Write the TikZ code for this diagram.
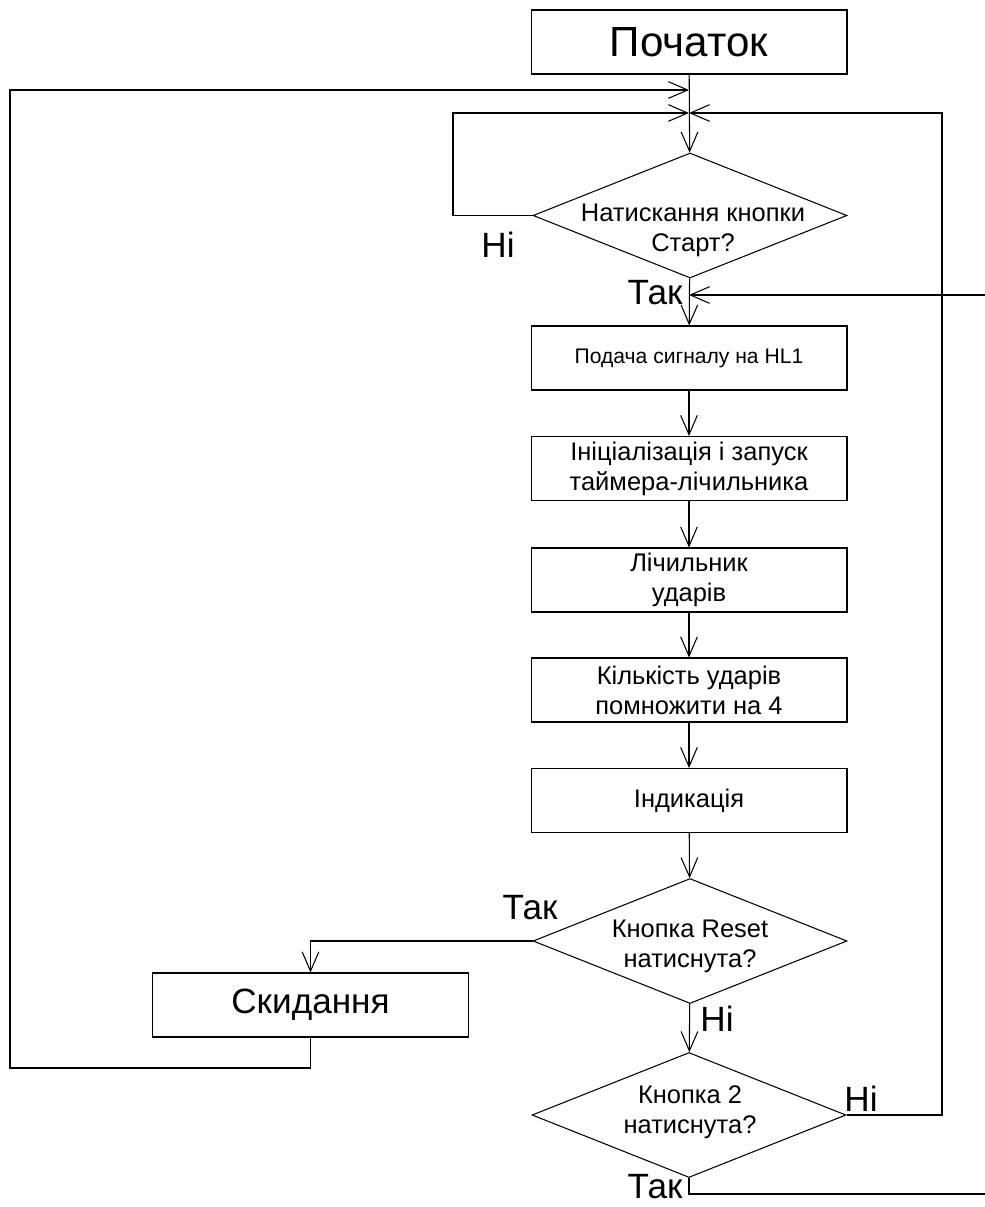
\documentclass[tikz,border=0pt]{standalone}
\usepackage{fontspec}
\setmainfont{Liberation Sans}
\usepackage{tikz}
\usetikzlibrary{arrows.meta, positioning, shapes.geometric, calc}

\begin{document}
\begin{tikzpicture}[
  x=0.02cm, y=-0.02cm,
  line width=0.6pt,
  every node/.style={font=\fontsize{14.5}{17}\selectfont, align=center},
  box/.style={draw, rectangle, minimum width=6.32cm, minimum height=1.28cm, inner sep=2pt},
  cond/.style={draw, diamond, minimum width=6.28cm, minimum height=2.5cm, inner sep=0pt},
  answer/.style={font=\fontsize{20}{22}\selectfont, inner sep=0pt},
  arrow/.style={-{Straight Barb[length=11pt, width=9.5pt]}}
]
  \useasboundingbox (0,0) rectangle (984,1207);

  \node[box, font=\fontsize{24}{28}\selectfont] (start) at (689, 42) {Початок};

  \node[cond] (ask) at (690, 215.5) {};
  \node (asktxt) at (693, 230) {\fontsize{14.5}{19}\selectfont Натискання кнопки\\Старт?};

  \node[box, font=\fontsize{12}{15}\selectfont] (signal) at (689, 358) {Подача сигналу на HL1};
  \node[box] (init) at (689, 468.5) {Ініціалізація і запуск\\таймера-лічильника};
  \node[box] (count) at (689, 580) {Лічильник\\ударів};
  \node[box] (mult) at (689, 690) {Кількість ударів\\помножити на 4};
  \node[box] (show) at (689, 800.5) {Індикація};

  \node[cond] (reset) at (690, 941) {};
  \node (resettxt) at (690, 946) {\fontsize{14.5}{18}\selectfont Кнопка Reset\\натиснута?};

  \node[cond] (btn) at (689, 1115) {};
  \node (btntxt) at (690, 1112.5) {\fontsize{14.5}{18}\selectfont Кнопка 2\\натиснута?};

  \node[box, font=\fontsize{20}{22}\selectfont] (clear) at (310.5, 1005) {Скидання};

  \coordinate (top1) at (689, 90);
  \coordinate (top2) at (689, 113);
  \coordinate (back) at (689, 295);
  \coordinate (noloop) at (453, 113);
  \coordinate (rightrail) at (942, 113);
  \coordinate (leftrail) at (10, 1068);
  \coordinate (farright) at (995, 1194);

  \draw[arrow] (start) -- (ask);
  \draw[arrow] (ask.west) -| (noloop) -- (top2);
  \draw[arrow] (ask) -- (signal);
  \draw[arrow] (signal) -- (init);
  \draw[arrow] (init) -- (count);
  \draw[arrow] (count) -- (mult);
  \draw[arrow] (mult) -- (show);
  \draw[arrow] (show) -- (reset);
  \draw[arrow] (reset.west) -| (clear.north);
  \draw[arrow] (clear.south) |- (leftrail) |- (top1);
  \draw[arrow] (reset) -- (btn);
  \draw[arrow] (btn.east) -| (rightrail) -- (top2);
  \draw[arrow] (btn.south) |- (farright) |- (back);

  \node[answer] (no1) at (498, 245) {Ні};
  \node[answer] (yes1) at (655, 293) {Так};
  \node[answer] (yes2) at (530, 908) {Так};
  \node[answer] (no2) at (717, 1019) {Ні};
  \node[answer] (no3) at (861, 1099) {Ні};
  \node[answer] (yes3) at (655, 1187) {Так};

\end{tikzpicture}
\end{document}
